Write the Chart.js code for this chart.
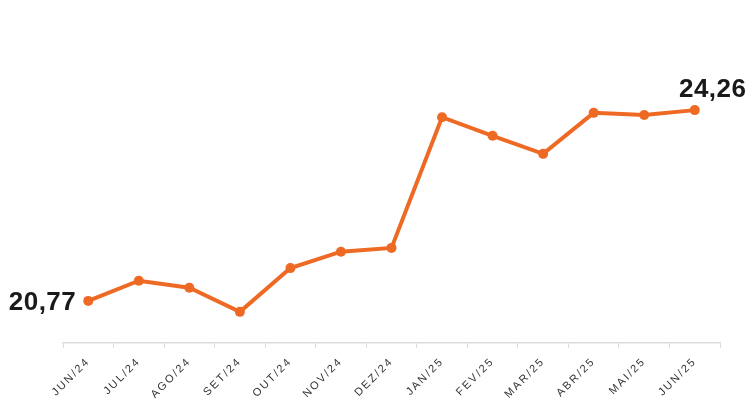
<!DOCTYPE html>
<html>
<head>
<meta charset="utf-8">
<script src="https://cdn.jsdelivr.net/npm/chart.js@4.4.1/dist/chart.umd.min.js"></script>
<style>
  body { margin: 0; background: #fff; }
  #wrap { width: 753px; height: 416px; position: relative; }
</style>
</head>
<body>
<div id="wrap"><canvas id="lineChart"></canvas></div>
<script>
const months = ['JUN/24', 'JUL/24', 'AGO/24', 'SET/24', 'OUT/24', 'NOV/24', 'DEZ/24',
                'JAN/25', 'FEV/25', 'MAR/25', 'ABR/25', 'MAI/25', 'JUN/25'];
const values = [20.77, 21.14, 21.01, 20.57, 21.37, 21.67, 21.74, 24.13, 23.79, 23.46, 24.21, 24.17, 24.26];

const lineColor = '#ee6a24';

const fmt = (v) => v.toFixed(2).replace('.', ',');

// spaced-out tick labels
const spacing = {
    id: 'spacing',
    beforeDraw(chart) {
        chart.ctx.letterSpacing = '2px';
    },
    beforeDatasetsDraw(chart) {
        chart.ctx.letterSpacing = '0px';
    },
};

// first and last value labels
const endLabels = {
    id: 'endLabels',
    afterDatasetsDraw(chart) {
        const ctx = chart.ctx;
        const pts = chart.getDatasetMeta(0).data;
        const first = pts[0];
        const last = pts[pts.length - 1];
        ctx.save();
        ctx.letterSpacing = '0.5px';
        ctx.fillStyle = '#1a1a1a';
        ctx.font = 'bold 26px "Liberation Sans", Arial, sans-serif';
        ctx.textAlign = 'right';
        ctx.textBaseline = 'middle';
        ctx.fillText(fmt(values[0]), first.x - 12, first.y + 2);
        ctx.textAlign = 'center';
        ctx.textBaseline = 'alphabetic';
        ctx.fillText(fmt(values[values.length - 1]), last.x + 18, last.y - 13);
        ctx.restore();
    },
};

new Chart(document.getElementById('lineChart'), {
    type: 'line',
    data: {
        labels: months,
        datasets: [
            {
                data: values,
                borderColor: lineColor,
                backgroundColor: lineColor,
                borderWidth: 4,
                pointRadius: 5,
                pointBackgroundColor: lineColor,
                pointBorderWidth: 0,
                tension: 0,
            },
        ],
    },
    options: {
        responsive: true,
        maintainAspectRatio: false,
        animation: false,
        layout: {
            padding: { left: 63, right: 33, top: 15, bottom: 0 },
        },
        plugins: {
            legend: { display: false },
            tooltip: { enabled: false },
        },
        scales: {
            x: {
                offset: true,
                grid: {
                    offset: true,
                    drawOnChartArea: false,
                    tickLength: 5,
                    color: '#dcdcdc',
                },
                border: { color: '#dcdcdc', width: 1.5 },
                ticks: {
                    minRotation: 45,
                    maxRotation: 45,
                    color: '#333',
                    padding: 7,
                    font: { size: 11, family: '"Liberation Sans", Arial, sans-serif' },
                },
                afterFit: (scale) => { scale.height = 73; },
            },
            y: {
                display: false,
                min: 20,
                max: 26,
            },
        },
    },
    plugins: [spacing, endLabels],
});
</script>
</body>
</html>
